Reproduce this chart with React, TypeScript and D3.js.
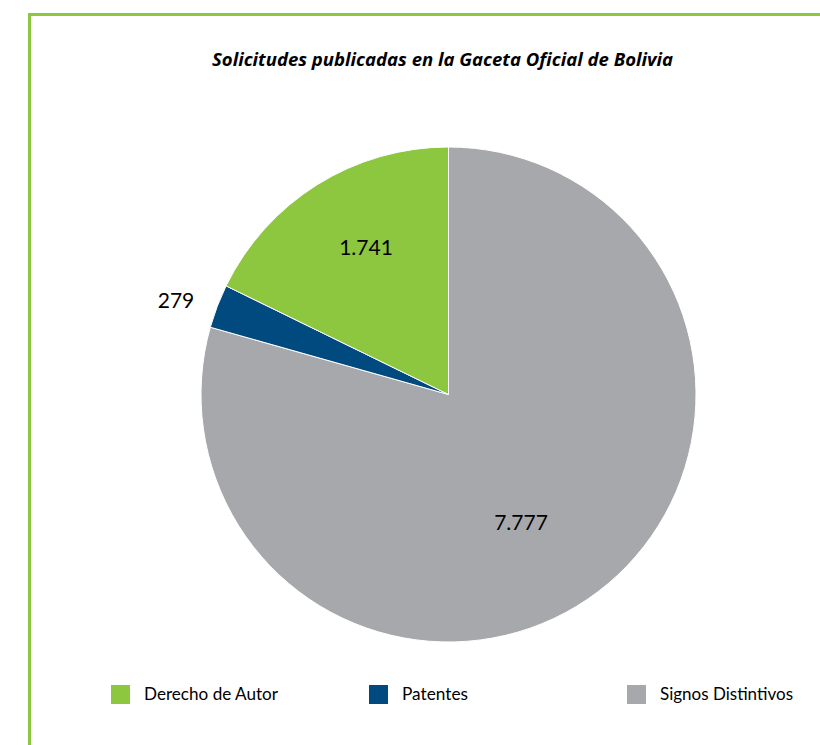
import React from "react";
import * as d3 from "d3";

const categories = ["Derecho de Autor", "Patentes", "Signos Distintivos"];
const values = [1741, 279, 7777];
const valueLabels = ["1.741", "279", "7.777"];
const colors = ["#8dc63f", "#004a80", "#a7a8ab"];
const title = "Solicitudes publicadas en la Gaceta Oficial de Bolivia";
const legendWidths = [134, 66, 133];

export default function App() {
  const W = 820, H = 745;
  const cx = 448.5, cy = 394.5, r = 247.5;
  // drawn clockwise from 12 o'clock: Signos, Patentes, Derecho
  const order = [2, 1, 0];
  const pie = d3.pie<number>().sort(null).value((i) => values[i]);
  const arcs = pie(order);
  const arc = d3.arc<d3.PieArcDatum<number>>().innerRadius(0).outerRadius(r);
  const legendX = [111, 369, 627];
  const font = "Lato, 'Open Sans', sans-serif";
  const labelPos = [[366, 248], [176, 301], [521, 523]];
  return (
    <svg width={W} height={H} style={{ position: "absolute", left: 0, top: 0 }}>
      <rect x={0} y={0} width={W} height={H} fill="#fff" />
      <line x1={29.5} y1={13} x2={29.5} y2={H} stroke="#8dc63f" strokeWidth={3} />
      <line x1={28} y1={14.5} x2={W} y2={14.5} stroke="#8dc63f" strokeWidth={3} />
      <text x={212} y={66} fontFamily="'Open Sans', sans-serif" fontWeight="bold" fontStyle="italic" fontSize={17} fill="#000" textLength={461} lengthAdjust="spacingAndGlyphs">
        {title}
      </text>
      <g>
        {arcs.map((a) => (
          <path key={a.data} d={arc(a) || ""} transform={`translate(${cx},${cy})`} fill={colors[a.data]} stroke="#fff" strokeWidth={1} />
        ))}
      </g>
      {[0, 1, 2].map((i) => (
        <text key={i} x={labelPos[i][0]} y={labelPos[i][1]} dy="0.35em" textAnchor="middle" fontFamily={font} fontSize={21} fill="#000">
          {valueLabels[i]}
        </text>
      ))}
      {categories.map((c, i) => (
        <g key={c}>
          <rect x={legendX[i]} y={685} width={19} height={19} fill={colors[i]} />
          <text x={legendX[i] + 33} y={700} fontFamily={font} fontSize={16.5} fill="#000" textLength={legendWidths[i]} lengthAdjust="spacingAndGlyphs">
            {c}
          </text>
        </g>
      ))}
    </svg>
  );
}
